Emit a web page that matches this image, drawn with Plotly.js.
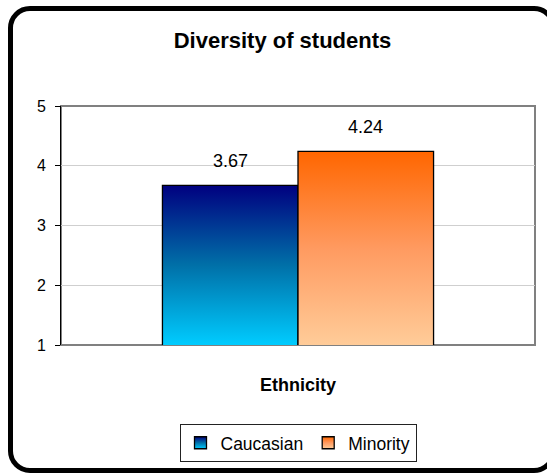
<!DOCTYPE html>
<html>
<head>
<meta charset="utf-8">
<script src="https://cdn.plot.ly/plotly-3.0.1.min.js"></script>
<style>
  html, body { margin: 0; padding: 0; background: #fff; overflow: hidden; }
  #wrap { position: relative; width: 547px; height: 474px; overflow: hidden; }
  #chart { position: absolute; left: 0; top: 0; width: 547px; height: 474px; }
  #frame {
    position: absolute; left: 8px; top: 6px; width: 548px; height: 467px;
    box-sizing: border-box; border: 5px solid #000; border-radius: 22px;
    pointer-events: none;
  }
</style>
</head>
<body>
<div id="wrap">
  <div id="chart"></div>
  <div id="frame"></div>
</div>
<svg width="0" height="0" style="position:absolute">
  <defs id="gradDefs">
    <linearGradient id="legCaucasian" x1="0" y1="0" x2="0" y2="1">
      <stop offset="0" stop-color="#000080"/>
      <stop offset="0.5" stop-color="#0070a8"/>
      <stop offset="1" stop-color="#00ccff"/>
    </linearGradient>
    <linearGradient id="legMinority" x1="0" y1="0" x2="0" y2="1">
      <stop offset="0" stop-color="#ff6600"/>
      <stop offset="0.5" stop-color="#ff9a60"/>
      <stop offset="1" stop-color="#ffcc99"/>
    </linearGradient>
  </defs>
</svg>
<script>
const categories = ["Ethnicity"];
const seriesNames = ["Caucasian", "Minority"];
const caucasianValues = [3.67];
const minorityValues = [4.24];
const yTickValues = [1, 2, 3, 4, 5];

const seriesValues = [caucasianValues, minorityValues];
const gradStops = [
  ["#000080", "#0070a8", "#00ccff"],
  ["#ff6600", "#ff9a60", "#ffcc99"]
];
const legIds = ["legCaucasian", "legMinority"];
const FONT = "Liberation Sans, Arial, sans-serif";
const bargap = 0.428;
const groupWidth = 1 - bargap;

const traces = seriesNames.map((name, i) => ({
  type: "bar",
  name: name,
  x: categories,
  y: seriesValues[i],
  marker: { color: gradStops[i][1], line: { color: "#000", width: 1.3 } },
  hoverinfo: "none"
}));

const annotations = [];
seriesValues.forEach((vals, i) => {
  vals.forEach((v, j) => {
    annotations.push({
      x: j - groupWidth / 4 + i * groupWidth / 2,
      y: v,
      xref: "x", yref: "y",
      text: v.toFixed(2),
      showarrow: false,
      yanchor: "middle",
      yshift: 24,
      font: { family: FONT, size: 18, color: "#000" }
    });
  });
});

const layout = {
  width: 547, height: 474,
  margin: { l: 61, r: 12, t: 106, b: 122 },
  paper_bgcolor: "#fff",
  plot_bgcolor: "#fff",
  font: { family: FONT, color: "#000" },
  title: {
    text: "<b>Diversity of students</b>",
    font: { family: FONT, size: 22, color: "#000" },
    xref: "container", x: 282.5 / 547, xanchor: "center",
    yref: "container", y: 1 - 40 / 474, yanchor: "middle"
  },
  barmode: "group",
  bargap: bargap,
  bargroupgap: 0,
  showlegend: true,
  legend: {
    orientation: "h",
    x: 0.5, xanchor: "center",
    y: -0.33, yanchor: "top",
    bordercolor: "#222", borderwidth: 1,
    font: { family: FONT, size: 17.5, color: "#000" },
    itemwidth: 30,
    traceorder: "normal"
  },
  xaxis: {
    type: "category",
    range: [-0.5, 0.5],
    showticklabels: false,
    ticks: "",
    showgrid: false,
    showline: false,
    zeroline: false,
    title: { text: "<b>Ethnicity</b>", font: { family: FONT, size: 18, color: "#000" }, standoff: 33 },
    automargin: false,
    fixedrange: true
  },
  yaxis: {
    range: [1, 5],
    tickvals: yTickValues,
    ticktext: yTickValues.map(String),
    ticks: "outside", ticklen: 5, tickcolor: "#000", tickwidth: 1,
    ticklabelstandoff: 6,
    tickfont: { family: FONT, size: 16, color: "#000" },
    showgrid: true, gridcolor: "#cfcfcf", gridwidth: 1,
    showline: true, linecolor: "#000", linewidth: 1,
    zeroline: false,
    automargin: false,
    fixedrange: true
  },
  shapes: [{
    type: "rect", xref: "paper", yref: "paper",
    x0: 0, x1: 1, y0: 0, y1: 1,
    line: { color: "#808080", width: 2 },
    layer: "below"
  }],
  annotations: annotations
};

const SVGNS = "http://www.w3.org/2000/svg";
Plotly.newPlot("chart", traces, layout, { displayModeBar: false, staticPlot: true }).then(gd => {
  const ya = gd._fullLayout.yaxis;
  const defs = document.getElementById("gradDefs");
  const yBottom = ya.l2p(ya.range[0]);
  gd.querySelectorAll(".barlayer .trace.bars").forEach((t, i) => {
    t.querySelectorAll(".point path").forEach((p, j) => {
      const id = "barGrad" + i + "_" + j;
      const g = document.createElementNS(SVGNS, "linearGradient");
      g.setAttribute("id", id);
      g.setAttribute("gradientUnits", "userSpaceOnUse");
      g.setAttribute("x1", 0); g.setAttribute("x2", 0);
      g.setAttribute("y1", ya.l2p(seriesValues[i][j]));
      g.setAttribute("y2", yBottom);
      gradStops[i].forEach((c, k) => {
        const s = document.createElementNS(SVGNS, "stop");
        s.setAttribute("offset", k / (gradStops[i].length - 1));
        s.setAttribute("stop-color", c);
        g.appendChild(s);
      });
      defs.appendChild(g);
      p.style.fill = "url(#" + id + ")";
    });
  });
  gd.querySelectorAll(".legend .traces").forEach((t, i) => {
    t.querySelectorAll(".legendpoints path").forEach(p => { p.style.fill = "url(#" + legIds[i] + ")"; });
  });
});
</script>
</body>
</html>
